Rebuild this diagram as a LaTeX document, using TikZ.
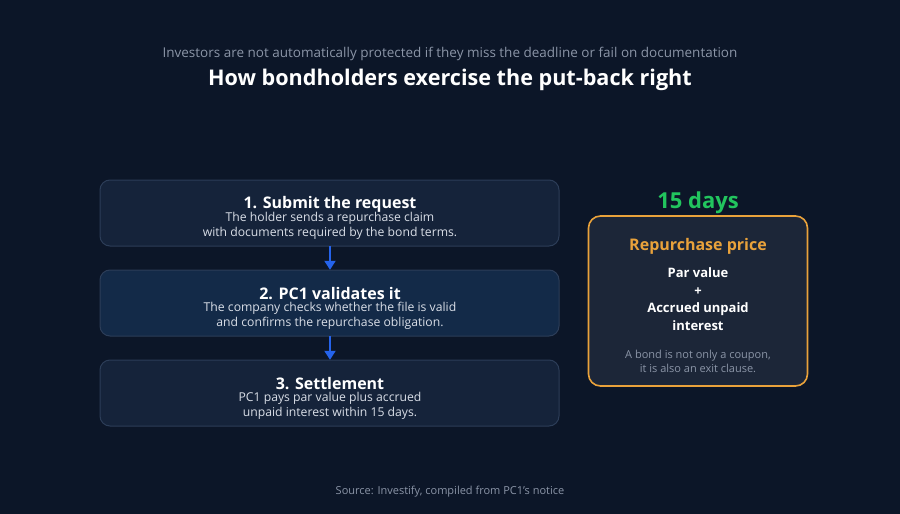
\documentclass[tikz,border=0pt]{standalone}
\usepackage{fontspec}
\setmainfont{Open Sans}
\usetikzlibrary{arrows.meta}
\definecolor{bg}{HTML}{0C1628}
\definecolor{stepfill}{HTML}{15233A}
\definecolor{stepfillhi}{HTML}{132A48}
\definecolor{stepline}{HTML}{2C3D58}
\definecolor{flowblue}{HTML}{2563EB}
\definecolor{accent}{HTML}{E9A23B}
\definecolor{pricefill}{HTML}{1C2638}
\definecolor{daygreen}{HTML}{22C55E}
\definecolor{muted}{HTML}{8B95A7}
\definecolor{bodytext}{HTML}{D9DEE7}
\tikzset{
  x=1pt, y=-1pt,
  stepbox/.style={draw=stepline, line width=1pt, fill=stepfill, rounded corners=10pt},
  steptitle/.style={text=white, font=\fontsize{16}{18}\selectfont\bfseries, inner sep=0pt},
  stepbody/.style={text=bodytext, font=\fontsize{12.2}{15}\selectfont, align=center, inner sep=0pt},
  flow/.style={draw=flowblue, line width=2pt, -{Triangle[length=9pt,width=11pt]}},
}
\begin{document}
\begin{tikzpicture}
\fill[bg] (0,0) rectangle (900,514);
\useasboundingbox (0,0) rectangle (900,514);

% heading
\node[text=muted, font=\fontsize{13.5}{16}\selectfont, inner sep=0pt] (sub) at (450,53.5) {Investors are not automatically protected if they miss the deadline or fail on documentation};
\node[text=white, font=\fontsize{21.6}{24}\selectfont\bfseries, inner sep=0pt] (title) at (450,80) {How bondholders exercise the put-back right};

% process steps
\path[stepbox] (100,180) rectangle (559,246);
\path[stepbox, fill=stepfillhi] (100,270) rectangle (559,336);
\path[stepbox] (100,360) rectangle (559,426);
\node[draw=none, inner sep=0pt, minimum width=459pt, minimum height=66pt] (s1) at (329.5,213) {};
\node[draw=none, inner sep=0pt, minimum width=459pt, minimum height=66pt] (s2) at (329.5,303) {};
\node[draw=none, inner sep=0pt, minimum width=459pt, minimum height=66pt] (s3) at (329.5,393) {};

\node[steptitle] (t1) at (330,204) {1. Submit the request};
\node[stepbody] (b1) at (330,226) {The holder sends a repurchase claim\\with documents required by the bond terms.};
\node[steptitle] (t2) at (330,294) {2. PC1 validates it};
\node[stepbody] (b2) at (330,316) {The company checks whether the file is valid\\and confirms the repurchase obligation.};
\node[steptitle] (t3) at (330,384) {3. Settlement};
\node[stepbody] (b3) at (330,406) {PC1 pays par value plus accrued\\unpaid interest within 15 days.};

\draw[flow] (s1.south -| 330,0) -- (s2.north -| 330,0);
\draw[flow] (s2.south -| 330,0) -- (s3.north -| 330,0);

% repurchase price card
\node[text=daygreen, font=\fontsize{22}{24}\selectfont\bfseries, inner sep=0pt] (days) at (698,202.5) {15 days};
\node[draw=accent, line width=1.6pt, fill=pricefill, rounded corners=12pt, minimum width=219pt, minimum height=170pt, inner sep=0pt] (card) at (698,301) {};
\node[text=accent, font=\fontsize{16}{18}\selectfont\bfseries, inner sep=0pt] (cardhead) at (698,246) {Repurchase price};
\node[text=white, font=\fontsize{13}{17.7}\selectfont\bfseries, align=center, inner sep=0pt] (formula) at (698,299) {Par value\\+\\Accrued unpaid\\interest};
\node[text=muted, font=\fontsize{11}{14}\selectfont, align=center, inner sep=0pt] (note) at (698,361.5) {A bond is not only a coupon,\\it is also an exit clause.};

% source line
\node[text=muted, font=\fontsize{11}{13}\selectfont, inner sep=0pt] (src) at (450,492) {Source: Investify, compiled from PC1's notice};
\end{tikzpicture}
\end{document}
